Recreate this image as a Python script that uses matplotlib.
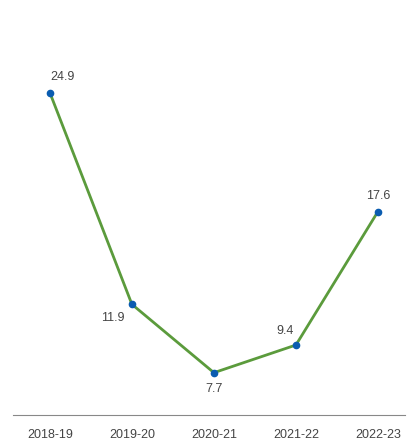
import matplotlib.pyplot as plt
import numpy as np

plt.rcParams['font.family'] = ['Liberation Sans', 'DejaVu Sans']

years = ['2018-19', '2019-20', '2020-21', '2021-22', '2022-23']
values = [24.9, 11.9, 7.7, 9.4, 17.6]
# label offsets in points (dx, dy) for each value
offsets = [(9, 11), (-14, -10), (0, -12), (-8, 10), (0, 11)]

fig = plt.figure(figsize=(4.13, 4.45), dpi=100)
ax = fig.add_axes([13 / 413, 30 / 445, 392 / 413, 415 / 445])

x = np.arange(len(years))
ax.plot(x, values, color='#5b9b3c', linewidth=2, zorder=2)
ax.plot(x, values, 'o', color='#0a5cb0', markersize=4.5, zorder=3)

for xi, v, (dx, dy) in zip(x, values, offsets):
    ax.annotate(f'{v}', (xi, v), xytext=(dx, dy), textcoords='offset points',
                ha='center', va='center', fontsize=9, color='#444444')

ax.set_xlim(-0.45, 4.33)
ax.set_ylim(5.1, 30.6)
ax.set_xticks(x)
ax.set_xticklabels(years, fontsize=9, color='#444444')
ax.set_yticks([])
ax.tick_params(axis='x', length=0, pad=10)
for side in ['top', 'right', 'left']:
    ax.spines[side].set_visible(False)
ax.spines['bottom'].set_color('#888888')
ax.spines['bottom'].set_linewidth(0.8)

fig.savefig('out.png', dpi=100)
